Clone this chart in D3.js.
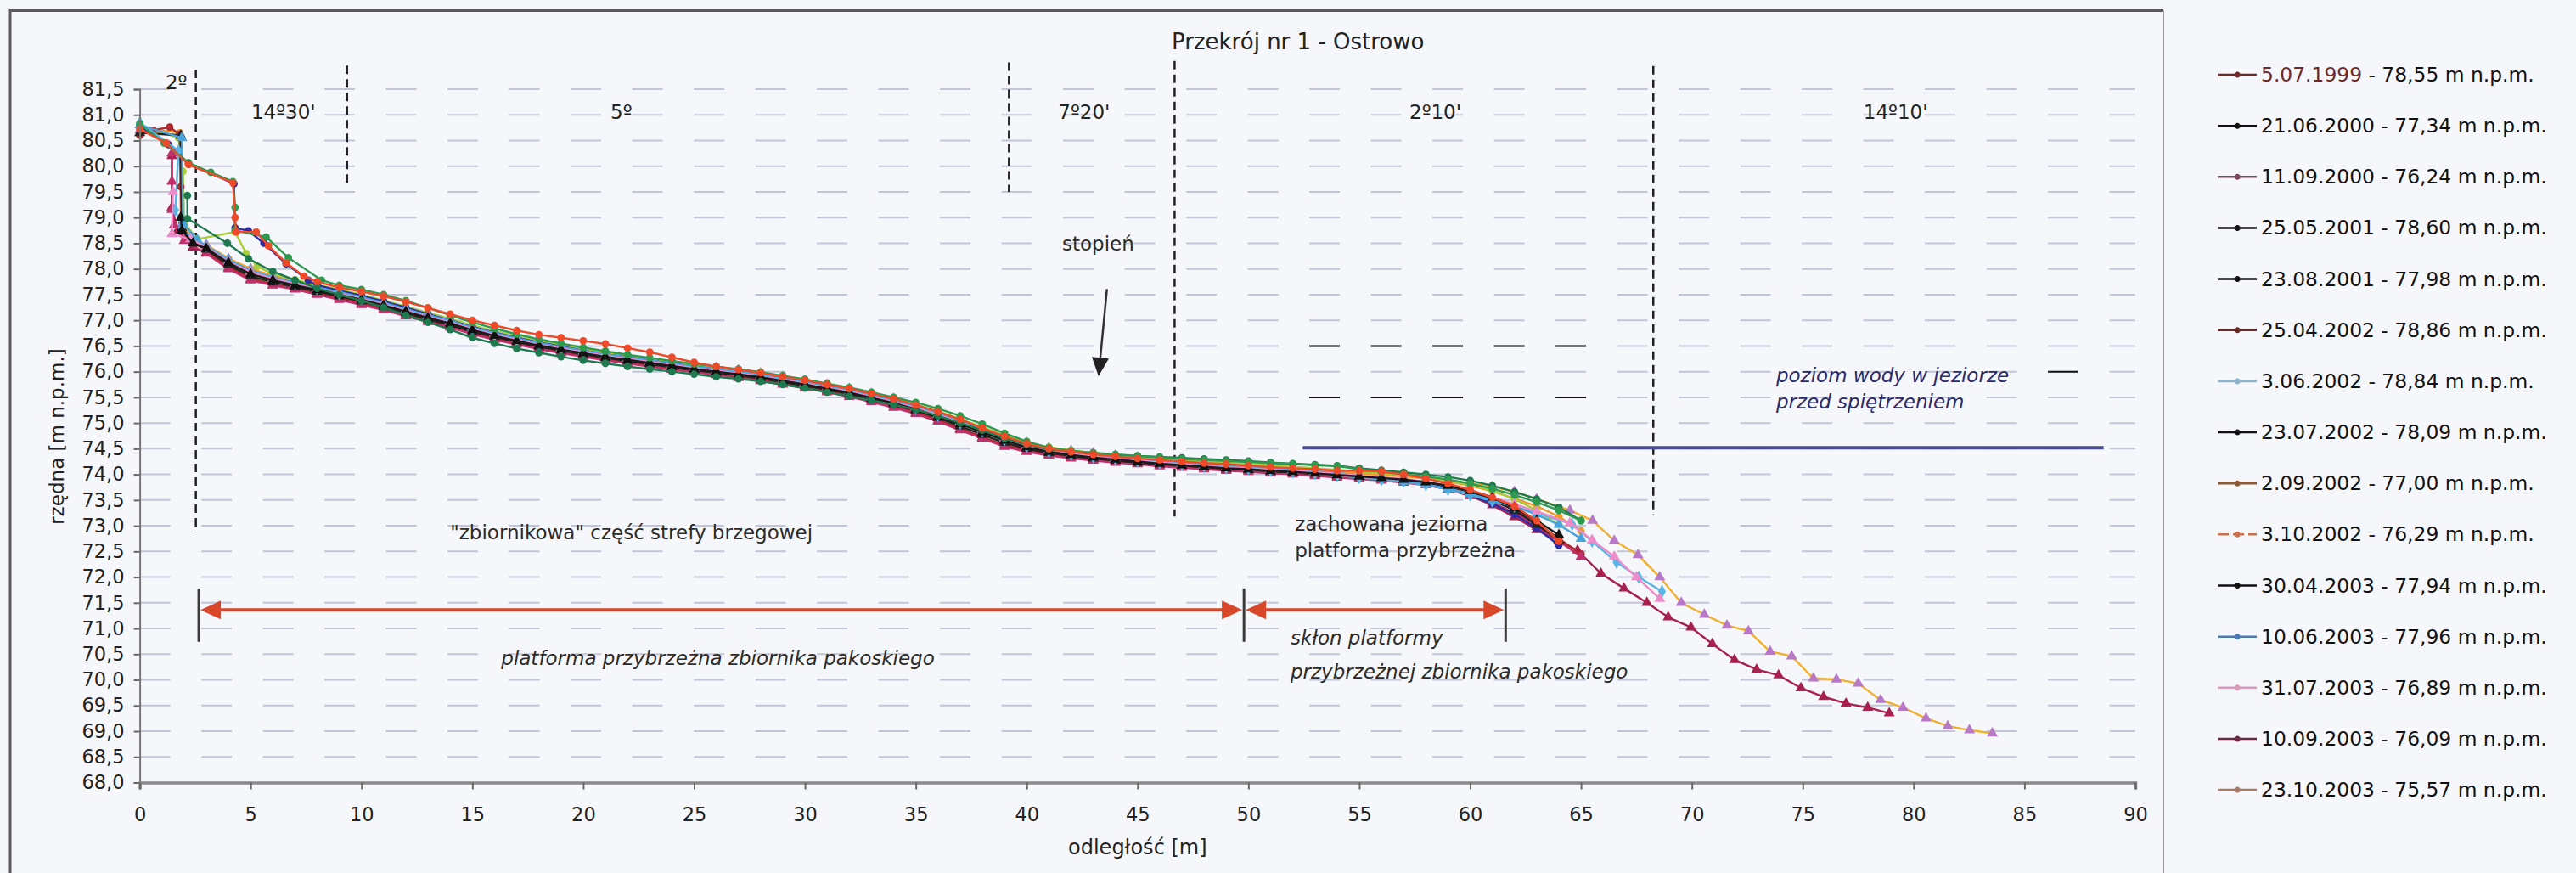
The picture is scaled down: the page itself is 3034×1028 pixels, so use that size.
<!DOCTYPE html>
<html lang="pl">
<head>
<meta charset="UTF-8">
<title>Przekrój nr 1 - Ostrowo</title>
<script src="https://d3js.org/d3.v7.min.js"></script>
<style>
  body { margin: 0; background: #f6f7fb; }
  svg { display: block; font-family: "DejaVu Sans", sans-serif; }
</style>
</head>
<body>
<svg width="3034" height="1028"></svg>
<script>
// ---- data ----
const yTicks = [68, 68.5, 69, 69.5, 70, 70.5, 71, 71.5, 72, 72.5, 73, 73.5, 74, 74.5, 75, 75.5, 76, 76.5, 77, 77.5, 78, 78.5, 79, 79.5, 80, 80.5, 81, 81.5];
const xTicks = [0, 5, 10, 15, 20, 25, 30, 35, 40, 45, 50, 55, 60, 65, 70, 75, 80, 85, 90];

const dates = ["5.07.1999", "21.06.2000", "11.09.2000", "25.05.2001", "23.08.2001", "25.04.2002", "3.06.2002", "23.07.2002",
  "2.09.2002", "3.10.2002", "30.04.2003", "10.06.2003", "31.07.2003", "10.09.2003", "23.10.2003"];
const levels = ["78,55", "77,34", "76,24", "78,60", "77,98", "78,86", "78,84", "78,09", "77,00", "76,29", "77,94", "77,96", "76,89", "76,09", "75,57"];

// common distance grid [m] for the measured points behind the shoreline
const dist = [3, 4, 5, 6, 7, 8, 9, 10, 11, 12, 13, 14, 15, 16, 17, 18, 19, 20, 21, 22, 23, 24, 25, 26, 27, 28, 29, 30, 31, 32,
  33, 34, 35, 36, 37, 38, 39, 40, 41, 42, 43, 44, 45, 46, 47, 48, 49, 50, 51, 52, 53, 54, 55, 56, 57, 58, 59, 60, 61, 62, 63, 64, 65];

// cliff part of each profile: [distance, elevation]
const h1 = [[0, 80.6], [0.6, 80.7], [1.35, 80.76], [1.8, 80.62], [1.85, 79.6], [1.9, 78.9], [2.2, 78.6]];
const h2 = [[0, 80.82], [1.1, 80.45], [2.2, 80.07], [3.2, 79.88], [4.2, 79.7], [4.3, 79.2], [4.3, 78.75], [5.7, 78.62], [6.7, 78.22], [8.2, 77.78]];
const h3 = [[1.45, 80.25], [1.45, 79.7], [1.45, 79.15], [1.55, 78.85], [2.0, 78.55]];
const h4 = [[1.85, 79.0], [1.9, 78.75], [2.4, 78.5]];
const h5 = [[0, 80.72], [1.2, 80.45], [2.2, 80.03], [4.2, 79.68], [4.3, 79.0], [4.35, 78.72], [5.25, 78.72], [5.8, 78.45], [6.6, 78.12], [7.4, 77.86]];
const h6 = [[2.15, 79.43], [2.15, 78.98], [3.95, 78.5], [4.9, 78.2]];
const h7 = [[0, 80.85], [1.75, 80.3], [1.6, 79.15], [1.9, 78.8], [2.4, 78.58]];
const h8 = [[0, 80.78], [1.3, 80.42], [2.2, 80.05], [4.25, 79.66], [4.3, 78.8], [4.9, 78.74], [5.6, 78.5], [6.6, 78.1], [7.6, 77.78]];
const h9 = [[0, 80.75], [1.8, 80.65], [1.85, 79.0], [2.2, 78.62]];
const h10 = [[0, 80.8], [1.75, 80.55], [1.95, 79.9], [2.0, 78.9], [2.6, 78.58], [4.3, 78.72], [4.8, 78.3], [5.3, 78.05]];
const h11 = [[0, 80.65], [1.85, 80.6], [1.9, 78.8], [2.5, 78.5]];
const h12 = [[0, 80.8], [1.9, 80.55], [1.95, 78.9], [2.6, 78.56]];
const h13 = [[1.5, 79.5], [1.45, 78.68], [2.3, 78.58]];
const h14 = [[1.45, 80.2], [1.45, 79.2], [1.7, 78.75], [2.4, 78.42]];
const h15 = [[0, 80.7], [1.85, 80.6], [1.9, 78.85], [2.6, 78.52]];

// elevations on the common grid (null = covered by the cliff part)
const b1 = [78.35, 78.05, 77.82, 77.70, 77.62, 77.53, 77.45, 77.35, 77.24, 77.12,
  77.00, 76.90, 76.77, 76.66, 76.57, 76.48, 76.40, 76.33, 76.26, 76.20,
  76.14, 76.07, 76.02, 75.97, 75.92, 75.86, 75.79, 75.72, 75.64, 75.56,
  75.46, 75.36, 75.22, 75.06, 74.90, 74.72, 74.58, 74.48, 74.40, 74.35,
  74.30, 74.27, 74.23, 74.19, 74.16, 74.13, 74.10, 74.08, 74.05, 74.03,
  74.00, 73.97, 73.94, 73.91, 73.88, 73.83, 73.76, 73.66, 73.52, 73.32,
  73.05, 72.75, 72.45];
const b2 = [null, null, null, null, null, null, 77.68, 77.60, 77.50, 77.38,
  77.24, 77.10, 76.96, 76.84, 76.73, 76.63, 76.55, 76.47, 76.40, 76.33,
  76.27, 76.21, 76.15, 76.10, 76.05, 75.99, 75.92, 75.85, 75.77, 75.69,
  75.60, 75.50, 75.40, 75.28, 75.14, 74.98, 74.80, 74.64, 74.52, 74.46,
  74.42, 74.39, 74.36, 74.33, 74.30, 74.28, 74.26, 74.24, 74.22, 74.20,
  74.18, 74.16, 74.10, 74.05, 74.00, 73.96, 73.90, 73.82, 73.72, 73.60,
  73.46, 73.30, 73.10];
const b3 = [78.30, 78.00, 77.78, 77.68, 77.60, 77.50, 77.40, 77.30, 77.20, 77.08,
  76.97, 76.86, 76.73, 76.62, 76.53, 76.44, 76.36, 76.29, 76.22, 76.16,
  76.10, 76.04, 75.99, 75.94, 75.88, 75.82, 75.75, 75.68, 75.60, 75.51,
  75.41, 75.30, 75.18, 75.03, 74.86, 74.70, 74.54, 74.44, 74.37, 74.31,
  74.27, 74.23, 74.20, 74.16, 74.13, 74.10, 74.07, 74.05, 74.02, 74.00,
  73.97, 73.94, 73.91, 73.88, 73.84, 73.79, 73.71, 73.60, 73.45, 73.25,
  72.98, 72.70, 72.40];
const b4 = [78.40, 78.12, 77.90, 77.78, 77.68, 77.59, 77.50, 77.40, 77.29, 77.17,
  77.05, 76.94, 76.81, 76.70, 76.60, 76.51, 76.43, 76.36, 76.29, 76.23,
  76.17, 76.11, 76.05, 76.00, 75.95, 75.89, 75.82, 75.75, 75.67, 75.59,
  75.49, 75.39, 75.27, 75.13, 74.98, 74.82, 74.66, 74.53, 74.44, 74.38,
  74.33, 74.29, 74.25, 74.21, 74.18, 74.15, 74.12, 74.10, 74.07, 74.05,
  74.02, 73.99, 73.96, 73.93, 73.90, 73.85, 73.78, 73.68, 73.55, 73.35,
  73.10, 72.82];
const b5 = [null, null, null, null, null, 77.75, 77.64, 77.56, 77.47, 77.36,
  77.24, 77.12, 77.00, 76.90, 76.80, 76.72, 76.66, 76.60, 76.54, 76.46,
  76.38, 76.28, 76.18, 76.10, 76.04, 75.98, 75.90, 75.83, 75.75, 75.67,
  75.57, 75.47, 75.35, 75.22, 75.07, 74.90, 74.74, 74.60, 74.50, 74.44,
  74.39, 74.35, 74.31, 74.28, 74.25, 74.22, 74.20, 74.17, 74.14, 74.12,
  74.10, 74.07, 74.07, 74.06, 74.00, 73.92, 73.82, 73.70, 73.55, 73.38,
  73.10, 72.70];
const b6 = [null, null, null, 77.95, 77.78, 77.62, 77.50, 77.38, 77.25, 77.10,
  76.96, 76.82, 76.66, 76.55, 76.45, 76.37, 76.29, 76.22, 76.16, 76.10,
  76.05, 76.00, 75.95, 75.90, 75.86, 75.81, 75.75, 75.68, 75.60, 75.52,
  75.44, 75.36, 75.26, 75.14, 75.00, 74.86, 74.70, 74.58, 74.49, 74.44,
  74.41, 74.38, 74.36, 74.34, 74.32, 74.30, 74.28, 74.26, 74.23, 74.21,
  74.19, 74.17, 74.12, 74.08, 74.04, 74.00, 73.95, 73.88, 73.78, 73.66,
  73.52, 73.36, 73.10];
const b7 = [78.45, 78.18, 77.96, 77.82, 77.72, 77.62, 77.52, 77.42, 77.31, 77.19,
  77.07, 76.95, 76.82, 76.71, 76.61, 76.52, 76.44, 76.37, 76.30, 76.24,
  76.18, 76.12, 76.06, 76.01, 75.96, 75.90, 75.83, 75.76, 75.68, 75.60,
  75.50, 75.40, 75.28, 75.15, 75.00, 74.84, 74.68, 74.54, 74.45, 74.39,
  74.34, 74.30, 74.26, 74.22, 74.19, 74.16, 74.13, 74.11, 74.08, 74.05,
  74.02, 73.98, 73.94, 73.90, 73.86, 73.80, 73.71, 73.60, 73.48, 73.38,
  73.25];
const b8 = [null, null, null, null, null, 77.68, 77.58, 77.48, 77.37, 77.25,
  77.12, 77.00, 76.87, 76.76, 76.66, 76.57, 76.49, 76.41, 76.34, 76.28,
  76.22, 76.16, 76.10, 76.05, 76.00, 75.94, 75.87, 75.80, 75.72, 75.64,
  75.54, 75.44, 75.32, 75.19, 75.04, 74.88, 74.72, 74.58, 74.48, 74.42,
  74.37, 74.33, 74.29, 74.25, 74.22, 74.19, 74.16, 74.13, 74.10, 74.07,
  74.04, 74.00, 73.96, 73.92, 73.88, 73.82, 73.73, 73.60, 73.43, 73.22,
  72.95, 72.62];
const b9 = [78.46, 78.20, 78.00, 77.87, 77.76, 77.66, 77.57, 77.47, 77.36, 77.24,
  77.12, 77.01, 76.88, 76.77, 76.67, 76.58, 76.50, 76.43, 76.36, 76.30,
  76.24, 76.18, 76.12, 76.07, 76.02, 75.96, 75.89, 75.82, 75.74, 75.66,
  75.56, 75.46, 75.34, 75.21, 75.06, 74.90, 74.74, 74.60, 74.51, 74.45,
  74.40, 74.36, 74.32, 74.28, 74.25, 74.22, 74.19, 74.17, 74.14, 74.11,
  74.08, 74.05, 74.02, 73.99, 73.96, 73.92, 73.86, 73.78, 73.67, 73.53,
  73.38, 73.18, 72.90];
const b10 = [null, null, null, 77.90, 77.79, 77.69, 77.60, 77.50, 77.39, 77.27,
  77.15, 77.03, 76.90, 76.79, 76.69, 76.60, 76.52, 76.45, 76.38, 76.32,
  76.26, 76.20, 76.14, 76.09, 76.04, 75.98, 75.91, 75.84, 75.76, 75.68,
  75.58, 75.48, 75.36, 75.23, 75.08, 74.92, 74.76, 74.62, 74.53, 74.47,
  74.42, 74.38, 74.35, 74.31, 74.28, 74.25, 74.23, 74.20, 74.18, 74.15,
  74.12, 74.09, 74.06, 74.03, 74.00, 73.95, 73.88, 73.80, 73.68, 73.52,
  73.30, 73.02];
const b11 = [78.38, 78.08, 77.86, 77.74, 77.65, 77.56, 77.47, 77.37, 77.26, 77.14,
  77.02, 76.91, 76.78, 76.68, 76.58, 76.49, 76.41, 76.34, 76.27, 76.21,
  76.15, 76.09, 76.03, 75.98, 75.93, 75.87, 75.80, 75.73, 75.65, 75.57,
  75.47, 75.37, 75.25, 75.10, 74.94, 74.77, 74.62, 74.50, 74.42, 74.36,
  74.31, 74.27, 74.23, 74.20, 74.17, 74.14, 74.11, 74.09, 74.06, 74.04,
  74.01, 73.98, 73.95, 73.92, 73.89, 73.84, 73.77, 73.66, 73.50, 73.30,
  73.02, 72.72];
const b12 = [78.44, 78.17, 77.97, 77.84, 77.74, 77.64, 77.55, 77.45, 77.34, 77.22,
  77.10, 76.99, 76.86, 76.75, 76.65, 76.56, 76.48, 76.41, 76.34, 76.28,
  76.22, 76.16, 76.10, 76.05, 76.00, 75.94, 75.87, 75.80, 75.72, 75.64,
  75.54, 75.44, 75.32, 75.19, 75.04, 74.88, 74.72, 74.58, 74.49, 74.43,
  74.38, 74.34, 74.30, 74.26, 74.23, 74.20, 74.17, 74.15, 74.12, 74.09,
  74.06, 74.03, 73.98, 73.92, 73.86, 73.80, 73.72, 73.62, 73.50, 73.37,
  73.22, 73.02, 72.75];
const b13 = [78.42, 78.14, 77.94, 77.81, 77.71, 77.61, 77.52, 77.42, 77.31, 77.19,
  77.07, 76.96, 76.83, 76.72, 76.62, 76.53, 76.45, 76.38, 76.31, 76.25,
  76.19, 76.13, 76.07, 76.02, 75.97, 75.91, 75.84, 75.77, 75.69, 75.61,
  75.51, 75.41, 75.29, 75.16, 75.01, 74.85, 74.69, 74.55, 74.46, 74.40,
  74.35, 74.31, 74.27, 74.23, 74.20, 74.17, 74.14, 74.12, 74.09, 74.07,
  74.04, 74.01, 73.98, 73.95, 73.91, 73.86, 73.78, 73.68, 73.56, 73.42,
  73.28];
const b14 = [78.32, 78.02, 77.80, 77.69, 77.61, 77.52, 77.43, 77.33, 77.22, 77.10,
  76.99, 76.88, 76.75, 76.64, 76.55, 76.46, 76.38, 76.31, 76.24, 76.18,
  76.12, 76.06, 76.00, 75.95, 75.90, 75.84, 75.77, 75.70, 75.62, 75.54,
  75.44, 75.34, 75.20, 75.05, 74.88, 74.72, 74.57, 74.46, 74.39, 74.33,
  74.29, 74.25, 74.21, 74.18, 74.15, 74.12, 74.09, 74.07, 74.04, 74.02,
  73.99, 73.96, 73.93, 73.90, 73.86, 73.80, 73.71, 73.58, 73.40, 73.17,
  72.92];
const b15 = [78.47, 78.20, 78.00, 77.86, 77.76, 77.67, 77.58, 77.48, 77.37, 77.25,
  77.13, 77.02, 76.89, 76.78, 76.68, 76.59, 76.51, 76.44, 76.37, 76.31,
  76.25, 76.19, 76.13, 76.08, 76.03, 75.97, 75.90, 75.83, 75.75, 75.67,
  75.57, 75.47, 75.35, 75.22, 75.07, 74.91, 74.75, 74.61, 74.52, 74.46,
  74.41, 74.37, 74.33, 74.29, 74.26, 74.23, 74.20, 74.18, 74.15, 74.12,
  74.09, 74.06, 74.03, 74.00, 73.97, 73.93, 73.88, 73.83, 73.76, 73.66,
  73.52];

// slope (skłon) part of the long profiles: [distance, elevation]
const t7 = [[64.6, 73.03], [65.5, 72.7], [66.6, 72.29], [67.6, 72.0], [68.65, 71.72]];
const t13 = [[64.5, 73.05], [65.5, 72.72], [66.5, 72.4], [67.5, 72.0], [68.55, 71.58]];
const t14 = [[64.84, 72.52], [65.9, 72.07], [66.94, 71.78], [67.97, 71.5], [68.93, 71.22], [69.96, 71.02], [70.92, 70.7],
  [71.92, 70.39], [72.92, 70.2], [73.91, 70.09], [74.92, 69.84], [75.94, 69.67], [76.95, 69.54], [77.93, 69.46], [78.9, 69.35]];
const t15 = [[64.5, 73.3], [65.52, 73.1], [66.5, 72.71], [67.57, 72.43], [68.55, 72.0], [69.52, 71.5], [70.56, 71.27],
  [71.58, 71.06], [72.55, 70.95], [73.53, 70.55], [74.5, 70.46], [75.48, 70.03], [76.52, 70.01], [77.5, 69.93],
  [78.51, 69.61], [79.52, 69.46], [80.56, 69.25], [81.54, 69.1], [82.52, 69.02], [83.55, 68.96]];

const heads = [h1, h2, h3, h4, h5, h6, h7, h8, h9, h10, h11, h12, h13, h14, h15];
const bodies = [b1, b2, b3, b4, b5, b6, b7, b8, b9, b10, b11, b12, b13, b14, b15];
const tails = [[], [], [], [], [], [], t7, [], [], [], [], [], t13, t14, t15];

// ---- styles ----
const lineColors = ["#b0282c", "#2e9a4e", "#c0306a", "#1a1a1a", "#ee4a2a", "#1e7a4e", "#5ab4e6", "#2c2ca8",
  "#f09a2a", "#a8cc3a", "#222222", "#4aa4dc", "#ec8cc8", "#a8204e", "#f0b030"];
const markColors = ["#b0282c", "#2e9a4e", "#c0306a", "#111111", "#ee4a2a", "#1e7a4e", "#5ab4e6", "#2c2ca8",
  "#f09a2a", "#a8cc3a", "#222222", "#4aa4dc", "#ec8cc8", "#a8204e", "#b878c8"];
const markShapes = [d3.symbolCircle, d3.symbolCircle, d3.symbolTriangle, d3.symbolTriangle, d3.symbolCircle, d3.symbolCircle,
  d3.symbolDiamond, d3.symbolCircle, d3.symbolCircle, d3.symbolCircle, d3.symbolTriangle, d3.symbolTriangle,
  d3.symbolTriangle, d3.symbolTriangle, d3.symbolTriangle];
const legendColors = ["#6e2a2a", "#111111", "#7d4a5c", "#111111", "#111111", "#6b2a2a", "#8fb3cc", "#111111",
  "#8b5a36", "#c8704e", "#111111", "#4a78b4", "#d99abc", "#6a2a40", "#a87a6a"];
// stacking order of the profiles (first = bottom)
const drawOrder = [14, 13, 8, 9, 0, 2, 7, 10, 6, 11, 12, 3, 5, 1, 4];

const svg = d3.select("svg");
const x = d3.scaleLinear().domain([0, 90]).range([164.6, 2515]);
const y = d3.scaleLinear().domain([68, 81.5]).range([921.5, 105]);
const GRID_DASH = "36,36.5";

svg.append("rect").attr("width", 3034).attr("height", 1028).attr("fill", "#f6f7fb");

// outer frame
svg.append("path")
  .attr("d", "M12,1040 V12.5 H2548")
  .attr("fill", "none").attr("stroke", "#5a5a5a").attr("stroke-width", 3);
svg.append("line")
  .attr("x1", 2548).attr("x2", 2548).attr("y1", 12.5).attr("y2", 1040)
  .attr("stroke", "#9a9a9a").attr("stroke-width", 2);

// horizontal dashed grid
svg.append("g").selectAll("line")
  .data(yTicks.filter(v => v > 68))
  .join("line")
  .attr("x1", x(0)).attr("x2", x(90))
  .attr("y1", d => y(d)).attr("y2", d => y(d))
  .attr("stroke", "#c2c5d8").attr("stroke-width", 2)
  .attr("stroke-dasharray", GRID_DASH);

// black dashes lying on some grid lines
const blackDashes = [[76.5, 52.3, 65.3], [75.5, 52.3, 65.3], [76.0, 86.0, 87.4]];
svg.append("g").selectAll("line")
  .data(blackDashes)
  .join("line")
  .attr("x1", d => x(d[1])).attr("x2", d => x(d[2]))
  .attr("y1", d => y(d[0])).attr("y2", d => y(d[0]))
  .attr("stroke", "#111").attr("stroke-width", 2)
  .attr("stroke-dasharray", GRID_DASH)
  .attr("stroke-dashoffset", d => x(d[1]) - x(0));

// vertical dashed section boundaries [distance, top, bottom]
const sections = [[2.53, 81.88, 72.87], [9.35, 81.96, 79.63], [39.2, 82.02, 79.5], [46.67, 82.05, 73.18], [68.26, 81.95, 73.2]];
svg.append("g").selectAll("line")
  .data(sections)
  .join("line")
  .attr("x1", d => x(d[0])).attr("x2", d => x(d[0]))
  .attr("y1", d => y(d[1])).attr("y2", d => y(d[2]))
  .attr("stroke", "#222").attr("stroke-width", 2.5)
  .attr("stroke-dasharray", "10,6");

// water level before damming
svg.append("line")
  .attr("x1", x(52.45)).attr("x2", x(88.57))
  .attr("y1", y(74.52)).attr("y2", y(74.52))
  .attr("stroke", "#4b4b8f").attr("stroke-width", 4);

// profiles
const line = d3.line().x(d => x(d[0])).y(d => y(d[1]));
drawOrder.forEach(i => {
  const pts = heads[i].slice();
  bodies[i].forEach((v, j) => { if (v !== null) pts.push([dist[j], v]); });
  tails[i].forEach(p => pts.push(p));
  const g = svg.append("g");
  g.append("path").datum(pts)
    .attr("d", line)
    .attr("fill", "none")
    .attr("stroke", lineColors[i])
    .attr("stroke-width", 2.4);
  const sym = d3.symbol().type(markShapes[i]).size(markShapes[i] === d3.symbolCircle ? 62 : 72);
  g.selectAll("path.m").data(pts).join("path")
    .attr("class", "m")
    .attr("transform", d => `translate(${x(d[0])},${y(d[1])})`)
    .attr("d", sym)
    .attr("fill", markColors[i]);
});

// axes
const yAxis = svg.append("g")
  .attr("transform", `translate(${x(0)},0)`)
  .call(d3.axisLeft(y).tickValues(yTicks).tickSize(7).tickPadding(11)
    .tickFormat(d => d.toFixed(1).replace(".", ",")));
const xAxis = svg.append("g")
  .attr("transform", `translate(0,${y(68)})`)
  .call(d3.axisBottom(x).tickValues(xTicks).tickSize(8).tickPadding(22));
[yAxis, xAxis].forEach(a => {
  a.select(".domain").attr("stroke", "#777").attr("stroke-width", 2);
  a.selectAll(".tick line").attr("stroke", "#666").attr("stroke-width", 2);
  a.selectAll(".tick text").attr("font-size", 22.5).attr("fill", "#222")
    .attr("font-family", "DejaVu Sans");
});
xAxis.select(".domain").attr("stroke", "#8a8a8a").attr("stroke-width", 3.5);

svg.append("text")
  .attr("x", (x(0) + x(90)) / 2).attr("y", 998)
  .attr("text-anchor", "middle").attr("dominant-baseline", "central")
  .attr("font-size", 24).attr("fill", "#222")
  .text("odległość [m]");
svg.append("text")
  .attr("transform", `translate(67,514) rotate(-90)`)
  .attr("text-anchor", "middle").attr("dominant-baseline", "central")
  .attr("font-size", 23).attr("fill", "#222")
  .text("rzędna [m n.p.m.]");

// title
svg.append("text")
  .attr("x", 1380).attr("y", 49).attr("dominant-baseline", "central")
  .attr("font-size", 26).attr("fill", "#222")
  .text("Przekrój nr 1 - Ostrowo");

// slope angles
const slopeText = ["2º", "14º30'", "5º", "7º20'", "2º10'", "14º10'"];
const slopePos = [[1.65, 81.63], [6.48, 81.05], [21.72, 81.05], [42.59, 81.05], [58.43, 81.05], [79.19, 81.05]];
svg.append("g").selectAll("text")
  .data(slopeText)
  .join("text")
  .attr("x", (d, i) => x(slopePos[i][0])).attr("y", (d, i) => y(slopePos[i][1]))
  .attr("text-anchor", "middle").attr("dominant-baseline", "central")
  .attr("font-size", 23).attr("fill", "#222")
  .text(d => d);

// annotations [text, distance, elevation, italic, colour]
const notes = [
  ["\"zbiornikowa\" część strefy brzegowej", 14.0, 72.87, false, "#2a2a2a"],
  ["stopień", 41.6, 78.49, false, "#2a2a2a"],
  ["zachowana jeziorna", 52.1, 73.03, false, "#2a2a2a"],
  ["platforma przybrzeżna", 52.1, 72.52, false, "#2a2a2a"],
  ["platforma przybrzeżna zbiornika pakoskiego", 16.3, 70.42, true, "#2a2a2a"],
  ["skłon platformy", 51.9, 70.82, true, "#2a2a2a"],
  ["przybrzeżnej zbiornika pakoskiego", 51.9, 70.15, true, "#2a2a2a"],
  ["poziom wody w jeziorze", 73.8, 75.93, true, "#2b2b6b"],
  ["przed spiętrzeniem", 73.8, 75.41, true, "#2b2b6b"]
];
svg.append("g").selectAll("text")
  .data(notes)
  .join("text")
  .attr("x", d => x(d[1])).attr("y", d => y(d[2]))
  .attr("dominant-baseline", "central")
  .attr("font-size", 23)
  .attr("font-style", d => d[3] ? "italic" : "normal")
  .attr("fill", d => d[4])
  .text(d => d[0]);

// "stopień" arrow
const stepFrom = [43.62, 77.61], stepTo = [43.24, 75.91];
function head(tx, ty, ux, uy, len, half) {
  const bx = tx - ux * len, by = ty - uy * len;
  return `M${tx},${ty} L${bx - uy * half},${by + ux * half} L${bx + uy * half},${by - ux * half} Z`;
}
{
  const x1 = x(stepFrom[0]), y1 = y(stepFrom[1]), x2 = x(stepTo[0]), y2 = y(stepTo[1]);
  const L = Math.hypot(x2 - x1, y2 - y1), ux = (x2 - x1) / L, uy = (y2 - y1) / L;
  svg.append("line").attr("x1", x1).attr("y1", y1).attr("x2", x2 - ux * 15).attr("y2", y2 - uy * 15)
    .attr("stroke", "#333").attr("stroke-width", 2.5);
  svg.append("path").attr("d", head(x2, y2, ux, uy, 22, 10)).attr("fill", "#222");
}

// red range arrows with end bars
const rangeBars = [2.66, 49.8, 61.6];
const arrowY = 71.36;
svg.append("g").selectAll("line")
  .data(rangeBars)
  .join("line")
  .attr("x1", d => x(d)).attr("x2", d => x(d))
  .attr("y1", y(71.78)).attr("y2", y(70.74))
  .attr("stroke", "#3a3a3a").attr("stroke-width", 3);
for (let k = 0; k < rangeBars.length - 1; k++) {
  const a = x(rangeBars[k]) + 2, b = x(rangeBars[k + 1]) - 2, yy = y(arrowY);
  svg.append("line").attr("x1", a + 20).attr("x2", b - 20).attr("y1", yy).attr("y2", yy)
    .attr("stroke", "#d9472b").attr("stroke-width", 4);
  svg.append("path").attr("d", head(a, yy, -1, 0, 24, 11)).attr("fill", "#d9472b");
  svg.append("path").attr("d", head(b, yy, 1, 0, 24, 11)).attr("fill", "#d9472b");
}

// legend
const leg = svg.append("g").attr("transform", "translate(2612,88)");
const rows = leg.selectAll("g").data(dates).join("g")
  .attr("transform", (d, i) => `translate(0,${i * 60.15})`);
rows.append("line").attr("x1", 0).attr("x2", 46)
  .attr("stroke", (d, i) => legendColors[i]).attr("stroke-width", 2.5)
  .attr("stroke-dasharray", (d, i) => i === 9 ? "13,5" : null);
rows.append("circle").attr("cx", 23).attr("r", 3.5).attr("fill", (d, i) => legendColors[i]);
const lt = rows.append("text").attr("x", 51).attr("dominant-baseline", "central")
  .attr("font-size", 23.4).attr("fill", "#111");
lt.append("tspan").attr("fill", (d, i) => i === 0 ? "#6e2a2a" : "#111").text(d => d);
lt.append("tspan").text((d, i) => ` - ${levels[i]} m n.p.m.`);
</script>
</body>
</html>
